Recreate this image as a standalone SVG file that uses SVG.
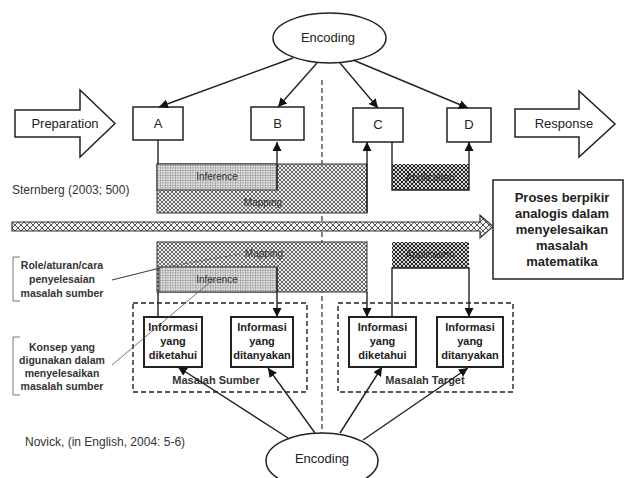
<svg xmlns="http://www.w3.org/2000/svg" width="624" height="478" viewBox="0 0 624 478">
<defs>
<pattern id="hatch" width="4" height="4" patternUnits="userSpaceOnUse">
<rect width="4" height="4" fill="#efefef"/>
<path d="M0,0 L4,4 M4,0 L0,4" stroke="#444" stroke-width="0.8"/>
</pattern>
<pattern id="hatchD" width="4" height="4" patternUnits="userSpaceOnUse">
<rect width="4" height="4" fill="#d8d8d8"/>
<path d="M0,0 L4,4 M4,0 L0,4" stroke="#222" stroke-width="1"/>
</pattern>
<pattern id="grid" width="2.5" height="2.5" patternUnits="userSpaceOnUse">
<rect width="2.5" height="2.5" fill="#e4e4e4"/>
<path d="M0,0 H2.5 M0,0 V2.5" stroke="#6a6a6a" stroke-width="0.7"/>
</pattern>
<pattern id="band" width="6" height="6" patternUnits="userSpaceOnUse">
<rect width="6" height="6" fill="#f4f4f4"/>
<path d="M0,0 L6,6 M6,0 L0,6" stroke="#555" stroke-width="1"/>
</pattern>
<marker id="ah" viewBox="0 0 10 10" refX="10" refY="5" markerWidth="9" markerHeight="9" markerUnits="userSpaceOnUse" orient="auto">
<path d="M0,0 L10,5 L0,10 Z" fill="#111"/>
</marker>
<style>
text{font-family:"Liberation Sans",Arial,sans-serif;fill:#222}
.lbl{font-size:13px;text-anchor:middle}
.box{fill:#fff;stroke:#222;stroke-width:1.5}
.box2{fill:#fff;stroke:#222;stroke-width:2}
.ln{fill:none;stroke:#222;stroke-width:1.4}
.dash{fill:none;stroke:#222;stroke-width:1.4;stroke-dasharray:5,3}
.inf{font-size:11px;font-weight:bold;text-anchor:middle}
.ann{font-size:10.5px;font-weight:bold;text-anchor:middle;fill:#333}
.pat{font-size:10px;text-anchor:middle;fill:#333}
.ref{font-size:12px;fill:#333}
.sum{font-size:13px;font-weight:bold;text-anchor:middle}
</style>
</defs>

<!-- vertical dashed divider -->
<line x1="322" y1="80" x2="322" y2="433" stroke="#333" stroke-width="1.2" stroke-dasharray="5,3"/>

<g id="encoding-top">
<ellipse cx="329.5" cy="38" rx="56.5" ry="25" fill="#fff" stroke="#222" stroke-width="1.5"/>
<text class="lbl" x="328" y="42">Encoding</text>
</g>

<g id="preparation">
<polygon points="15,110 80,110 80,90 115,123.5 80,157 80,137 15,137" fill="#fff" stroke="#222" stroke-width="1.5"/>
<text class="lbl" x="65" y="128">Preparation</text>
</g>
<g id="response">
<polygon points="515,109 579,109 579,91 615,124 579,157 579,137 515,137" fill="#fff" stroke="#222" stroke-width="1.5"/>
<text class="lbl" x="564" y="128">Response</text>
</g>

<g id="A"><rect class="box" x="133" y="107" width="50" height="33"/><text class="lbl" x="158" y="128">A</text></g>
<g id="B"><rect class="box" x="251" y="107" width="53" height="33"/><text class="lbl" x="277.5" y="128">B</text></g>
<g id="C"><rect class="box" x="353" y="108" width="50" height="34"/><text class="lbl" x="378" y="129">C</text></g>
<g id="D"><rect class="box" x="447" y="108" width="44" height="34"/><text class="lbl" x="469" y="129">D</text></g>

<g id="mapping-top">
<rect x="157" y="164" width="210" height="49" fill="url(#hatch)" stroke="#333" stroke-width="1"/>
<text class="pat" x="263" y="206">Mapping</text>
</g>
<g id="inference-top">
<rect x="157" y="164" width="120" height="26" fill="url(#grid)" stroke="#333" stroke-width="1"/>
<text class="pat" x="217" y="180">Inference</text>
</g>
<g id="application-top">
<rect x="392" y="164" width="77" height="26" fill="url(#hatchD)" stroke="none"/>
<text class="pat" x="430" y="181">Application</text>
</g>

<g id="sternberg"><text class="ref" x="12" y="194">Sternberg (2003; 500)</text></g>

<g id="band">
<polygon points="12,222 480,222 480,215 493,226.5 480,238 480,231 12,231" fill="url(#band)" stroke="#333" stroke-width="1.2"/>
</g>

<g id="summary">
<rect x="493" y="180" width="130" height="99" fill="#fff" stroke="#222" stroke-width="1.5"/>
<text class="sum" x="562" y="202">Proses berpikir</text>
<text class="sum" x="562" y="218">analogis dalam</text>
<text class="sum" x="562" y="234">menyelesaikan</text>
<text class="sum" x="562" y="250">masalah</text>
<text class="sum" x="562" y="266">matematika</text>
</g>

<g id="mapping-bottom">
<rect x="157" y="242" width="210" height="50" fill="url(#hatch)" stroke="#333" stroke-width="1"/>
<text class="pat" x="264" y="257">Mapping</text>
</g>
<g id="inference-bottom">
<rect x="159" y="267" width="118" height="25" fill="url(#grid)" stroke="#333" stroke-width="1"/>
<text class="pat" x="217" y="283">Inference</text>
</g>
<g id="application-bottom">
<rect x="392" y="242" width="77" height="26" fill="url(#hatchD)" stroke="none"/>
<text class="pat" x="430" y="258">Application</text>
</g>

<g id="masalah-sumber">
<rect class="dash" x="133" y="303" width="174" height="89"/>
<text x="216" y="384" style="font-size:11px;font-weight:bold;text-anchor:middle;fill:#333">Masalah Sumber</text>
</g>
<g id="masalah-target">
<rect class="dash" x="338" y="303" width="175" height="89"/>
<text x="425" y="384" style="font-size:11px;font-weight:bold;text-anchor:middle;fill:#333">Masalah Target</text>
</g>

<g id="sumber-diketahui">
<rect class="box2" x="144" y="317" width="58" height="50"/>
<text class="inf" x="173" y="331">Informasi</text><text class="inf" x="173" y="345">yang</text><text class="inf" x="173" y="359">diketahui</text>
</g>
<g id="sumber-ditanyakan">
<rect class="box2" x="231" y="317" width="62" height="50"/>
<text class="inf" x="262" y="331">Informasi</text><text class="inf" x="262" y="345">yang</text><text class="inf" x="262" y="359">ditanyakan</text>
</g>
<g id="target-diketahui">
<rect class="box2" x="349" y="317" width="67" height="50"/>
<text class="inf" x="382.5" y="331">Informasi</text><text class="inf" x="382.5" y="345">yang</text><text class="inf" x="382.5" y="359">diketahui</text>
</g>
<g id="target-ditanyakan">
<rect class="box2" x="437" y="317" width="66" height="50"/>
<text class="inf" x="470" y="331">Informasi</text><text class="inf" x="470" y="345">yang</text><text class="inf" x="470" y="359">ditanyakan</text>
</g>

<g id="encoding-bottom">
<ellipse cx="322" cy="461" rx="56" ry="28" fill="#fff" stroke="#222" stroke-width="1.5"/>
<text class="lbl" x="322" y="463">Encoding</text>
</g>

<g id="novick"><text class="ref" x="25" y="446">Novick, (in English, 2004: 5-6)</text></g>

<g id="note-role">
<path d="M20,257 H13 V301 H20" fill="none" stroke="#777" stroke-width="1"/>
<text class="ann" x="62" y="269">Role/aturan/cara</text>
<text class="ann" x="62" y="283">penyelesaian</text>
<text class="ann" x="62" y="297">masalah sumber</text>
</g>
<g id="note-konsep">
<path d="M20,337 H13 V395 H20" fill="none" stroke="#777" stroke-width="1"/>
<text class="ann" x="62" y="351">Konsep yang</text>
<text class="ann" x="62" y="364">digunakan dalam</text>
<text class="ann" x="62" y="377">menyelesaikan</text>
<text class="ann" x="62" y="390">masalah sumber</text>
</g>

<g id="connectors">
<line class="ln" x1="293" y1="58" x2="159" y2="107" marker-end="url(#ah)"/>
<line class="ln" x1="317" y1="63" x2="278" y2="107" marker-end="url(#ah)"/>
<line class="ln" x1="340" y1="63" x2="378" y2="108" marker-end="url(#ah)"/>
<line class="ln" x1="353" y1="60" x2="468" y2="108" marker-end="url(#ah)"/>
<line class="ln" x1="158" y1="140" x2="158" y2="164"/>
<line class="ln" x1="277" y1="190" x2="277" y2="142" marker-end="url(#ah)"/>
<line class="ln" x1="367" y1="213" x2="367" y2="142" marker-end="url(#ah)"/>
<polyline class="ln" points="392,142 392,190 469,190 469,142" marker-end="url(#ah)"/>
<line class="ln" x1="158" y1="317" x2="158" y2="292"/>
<line class="ln" x1="277" y1="267" x2="277" y2="317" marker-end="url(#ah)"/>
<line class="ln" x1="367" y1="292" x2="367" y2="317" marker-end="url(#ah)"/>
<polyline class="ln" points="392,317 392,268 469,268 469,317" marker-end="url(#ah)"/>
<line class="ln" x1="288" y1="438" x2="178" y2="367" marker-end="url(#ah)"/>
<line class="ln" x1="315" y1="433" x2="268" y2="368" marker-end="url(#ah)"/>
<line class="ln" x1="340" y1="433" x2="382" y2="367" marker-end="url(#ah)"/>
<line class="ln" x1="363" y1="440" x2="468" y2="368" marker-end="url(#ah)"/>
<line x1="112" y1="280" x2="160" y2="268" stroke="#333" stroke-width="1"/>
<line x1="160" y1="268" x2="240" y2="254" stroke="#666" stroke-width="0.8" stroke-dasharray="3,2"/>
<line x1="112" y1="365" x2="215" y2="278" stroke="#555" stroke-width="0.8"/>
</g>
</svg>
